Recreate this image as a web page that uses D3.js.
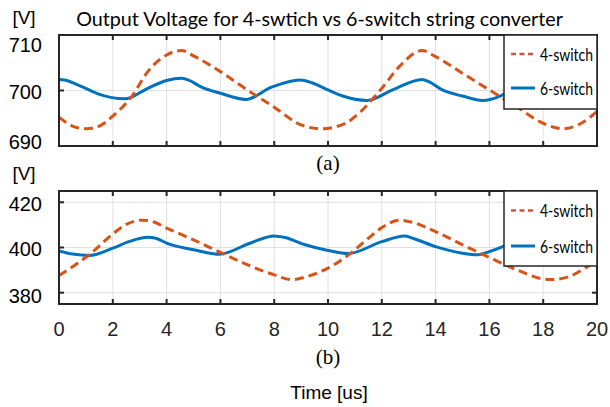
<!DOCTYPE html>
<html><head><meta charset="utf-8">
<script src="https://cdn.jsdelivr.net/npm/d3@7"></script>
<style>body{margin:0;background:#fff}svg{display:block}</style>
</head><body>
<script>
// ---- data ----
const xTicks = [0,2,4,6,8,10,12,14,16,18,20];
const topYTickLabels = ["710","700","690"];
const botYTickLabels = ["420","400","380"];
const seriesNames = ["4-switch","6-switch"];

const topT4 = [0,0.5,1,1.5,2,2.7,3.3,4,4.55,5.05,6,7,8,9,9.75,10.65,11.15,12,12.65,13.5,14,15,16,17,18,18.75,19.3,20];
const topV4 = [695.2,693.6,693.1,693.6,695.4,698.9,703.4,706.4,707.2,706.1,703.4,700.1,697.0,693.8,693.1,694.1,695.9,700.4,704.3,707.2,706.1,703.1,700.1,697.1,694.1,693.1,693.8,696.2];
const topT6 = [0,0.2,0.85,1.45,2.45,3.3,4,4.55,4.8,5.3,6,6.95,7.9,8.95,9.4,10,10.55,11.45,12.4,13.5,13.75,14.25,15,15.75,16.35,16.6,17,17.5,18,18.5,19,19.5,20];
const topV6 = [702.0,701.9,700.7,699.4,698.5,700.4,701.8,702.2,701.9,700.6,699.5,698.4,700.6,701.9,701.4,700.1,699.0,698.2,700.1,702.0,701.6,700.1,699.0,698.2,698.9,699.5,700.4,701.5,702.0,701.3,700.2,699.2,698.5];

const botT4 = [0,0.65,1.15,2,2.45,3.1,3.5,4,5,6,7,8,8.65,9.15,10,10.85,11.5,12,12.65,13.15,14,15,16,17,18,18.3,19,19.6,20];
const botV4 = [387.6,392.7,397.1,406.0,409.9,412.1,411.4,408.6,403.4,397.8,392.4,387.9,385.8,386.9,390.9,397.5,404.1,408.8,412.1,411.1,407.0,401.2,395.6,390.2,386.1,385.8,387.3,391.2,394.2];
const botT6 = [0,0.5,1.15,2,2.6,3.3,3.6,4,5,5.95,7.1,8,8.4,9.15,10,10.75,12,12.85,13.15,14,15,15.6,16,16.5,17,17.5,18,18.5,19,19.5,20];
const botV6 = [398.5,397.1,396.5,399.7,402.6,404.5,404.1,401.9,399.0,397.0,401.9,405.1,404.4,401.2,398.7,397.3,402.6,405.1,404.1,400.4,397.5,396.8,398.2,400.4,403.0,404.8,404.3,402.5,400.5,398.8,397.8];

const topYTicks = [710,700,690];
const botYTicks = [420,400,380];

// ---- layout ----
const W = 610, H = 407;
const C4 = "#D95319", C6 = "#0072BD", AX = "#262626";
const svg = d3.select("body").append("svg").attr("width", W).attr("height", H);

const x = d3.scaleLinear().domain([0,20]).range([59,597]);

function fitText(sel, base, target) {
  const w = sel.node().getComputedTextLength();
  sel.attr("font-size", base * target / w);
}

function panel(id, yDomain, yRange, yTicks, yLabels, t4, v4, t6, v6, labelDy, gridY, legendBox) {
  const y = d3.scaleLinear().domain(yDomain).range(yRange);
  const g = svg.append("g");
  const [y0, y1] = [yRange[1], yRange[0]]; // top, bottom
  g.selectAll(".vg").data(xTicks.slice(1,-1)).join("line")
    .attr("x1", d=>x(d)).attr("x2", d=>x(d)).attr("y1", y0).attr("y2", y1)
    .attr("stroke", "#e0e0e0").attr("stroke-width", 1);
  g.selectAll(".hg").data(gridY).join("line")
    .attr("x1", x(0)).attr("x2", x(20)).attr("y1", d=>y(d)).attr("y2", d=>y(d))
    .attr("stroke", "#e0e0e0").attr("stroke-width", 1);
  svg.append("clipPath").attr("id", "clip"+id).append("rect")
    .attr("x", x(0)).attr("y", y0).attr("width", x(20)-x(0)).attr("height", y1-y0);
  const line = d3.line().x(d=>x(d[0])).y(d=>y(d[1])).curve(d3.curveMonotoneX);
  const lg = g.append("g").attr("clip-path", `url(#clip${id})`);
  lg.append("path").datum(d3.zip(t6, v6)).attr("d", line)
    .attr("fill","none").attr("stroke", C6).attr("stroke-width", 3);
  lg.append("path").datum(d3.zip(t4, v4)).attr("d", line)
    .attr("fill","none").attr("stroke", C4).attr("stroke-width", 3)
    .attr("stroke-dasharray", "9,5");
  g.selectAll(".tt").data(xTicks).join("line")
    .attr("x1", d=>x(d)).attr("x2", d=>x(d)).attr("y1", y0).attr("y2", y0+5)
    .attr("stroke", AX).attr("stroke-width", 2);
  g.selectAll(".tb").data(xTicks).join("line")
    .attr("x1", d=>x(d)).attr("x2", d=>x(d)).attr("y1", y1).attr("y2", y1-5)
    .attr("stroke", AX).attr("stroke-width", 2);
  const yt = yTicks.filter(d => d > yDomain[0] && d < yDomain[1]);
  g.selectAll(".yl").data(yt).join("line")
    .attr("x1", x(0)).attr("x2", x(0)+5).attr("y1", d=>y(d)).attr("y2", d=>y(d))
    .attr("stroke", AX).attr("stroke-width", 2);
  g.selectAll(".yr").data(yt).join("line")
    .attr("x1", x(20)).attr("x2", x(20)-5).attr("y1", d=>y(d)).attr("y2", d=>y(d))
    .attr("stroke", AX).attr("stroke-width", 2);
  g.append("rect").attr("x", x(0)).attr("y", y0).attr("width", x(20)-x(0)).attr("height", y1-y0)
    .attr("fill","none").attr("stroke", AX).attr("stroke-width", 2);
  g.selectAll(".ylab").data(yTicks).join("text")
    .attr("x", 42).attr("y", (d,i)=>y(d)+labelDy[i])
    .attr("text-anchor","end").attr("dominant-baseline","central")
    .attr("font-family","'Liberation Sans', Arial, sans-serif").attr("font-size", 20)
    .attr("fill", "#000").text((d,i)=>yLabels[i]);
  const [lx, ly, lw, lh, e1, e2] = legendBox;
  g.append("rect").attr("x", lx).attr("y", ly).attr("width", lw).attr("height", lh)
    .attr("fill","#fff").attr("stroke", AX).attr("stroke-width", 1.5);
  g.append("line").attr("x1", lx+7).attr("x2", lx+30).attr("y1", e1).attr("y2", e1)
    .attr("stroke", "#C8553D").attr("stroke-width", 2.5).attr("stroke-dasharray","5,3.5");
  g.append("line").attr("x1", lx+7).attr("x2", lx+31).attr("y1", e2).attr("y2", e2)
    .attr("stroke", C6).attr("stroke-width", 3);
  [e1, e2].forEach((ey, i) => {
    g.append("text").attr("x", lx+36).attr("y", ey).attr("dominant-baseline","central")
      .attr("font-family","Lato, 'Open Sans', sans-serif").attr("font-size", 17)
      .attr("textLength", 53).attr("lengthAdjust", "spacingAndGlyphs")
      .attr("fill","#000").text(seriesNames[i]);
  });
  return y;
}

panel("a", [690,710], [146,35], topYTicks, topYTickLabels, topT4, topV4, topT6, topV6,
      [10, 1, -4], [700], [504, 35, 93, 74, 54, 88]);
panel("b", [375,425], [304,191], botYTicks, botYTickLabels, botT4, botV4, botT6, botV6,
      [2, 1, 3], [420,400,380], [504, 191, 93, 75, 210.5, 246]);

svg.selectAll(".xl").data(xTicks).join("text")
  .attr("x", d=>x(d)).attr("y", 329).attr("text-anchor","middle").attr("dominant-baseline","central")
  .attr("font-family","'Liberation Sans', Arial, sans-serif").attr("font-size", 20)
  .attr("fill", "#262626").text(d=>d);

svg.append("text").attr("x", 24).attr("y", 17).attr("text-anchor","middle").attr("dominant-baseline","central")
  .attr("font-family","'Liberation Sans', Arial, sans-serif").attr("font-size", 19).text("[V]");
svg.append("text").attr("x", 24).attr("y", 173).attr("text-anchor","middle").attr("dominant-baseline","central")
  .attr("font-family","'Liberation Sans', Arial, sans-serif").attr("font-size", 19).text("[V]");

const title = svg.append("text").attr("x", 319.5).attr("y", 18).attr("text-anchor","middle")
  .attr("dominant-baseline","central").attr("font-family","Lato, 'Open Sans', sans-serif")
  .attr("font-size", 20).attr("fill","#000")
  .text("Output Voltage for 4-swtich vs 6-switch string converter");
fitText(title, 20, 487);

svg.append("text").attr("x", 328).attr("y", 163).attr("text-anchor","middle").attr("dominant-baseline","central")
  .attr("font-family","'Liberation Serif', 'Times New Roman', serif").attr("font-size", 21).text("(a)");
svg.append("text").attr("x", 328).attr("y", 357).attr("text-anchor","middle").attr("dominant-baseline","central")
  .attr("font-family","'Liberation Serif', 'Times New Roman', serif").attr("font-size", 21).text("(b)");

svg.append("text").attr("x", 329).attr("y", 392).attr("text-anchor","middle").attr("dominant-baseline","central")
  .attr("font-family","'Liberation Sans', Arial, sans-serif").attr("font-size", 19).text("Time [us]");
</script>
</body></html>
